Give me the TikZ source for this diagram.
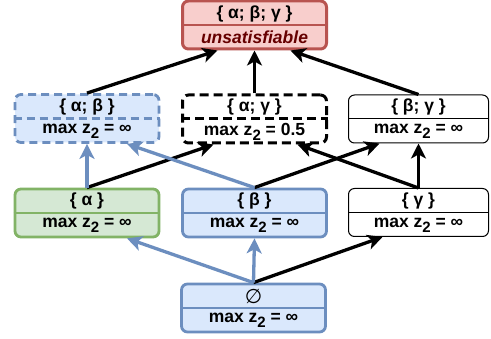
\documentclass[tikz,border=0pt]{standalone}
\usepackage{fontspec}
\setmainfont{Liberation Sans}
\newfontfamily\dejavufont{DejaVu Sans}
\usetikzlibrary{arrows.meta}
\definecolor{bluefill}{HTML}{DAE8FC}
\definecolor{bluedraw}{HTML}{6C8EBF}
\definecolor{greenfill}{HTML}{D5E8D4}
\definecolor{greendraw}{HTML}{82B366}
\definecolor{redfill}{HTML}{F8CECC}
\definecolor{reddraw}{HTML}{B85450}
\definecolor{darkredtext}{HTML}{660000}
\newcommand\zsub{z\raisebox{-0.28em}{\fontsize{15}{15}\selectfont 2}}
\begin{document}
\begin{tikzpicture}[x=1pt,y=-1pt,
  box/.style={rectangle, rounded corners=6pt, minimum width=144pt, minimum height=48pt, inner sep=0pt},
  bluebox/.style={box, fill=bluefill, draw=bluedraw, line width=2.8pt},
  blueboxd/.style={box, fill=bluefill, draw=bluedraw, line width=2.8pt, dash pattern=on 8pt off 5pt},
  greenbox/.style={box, fill=greenfill, draw=greendraw, line width=2.8pt},
  redbox/.style={box, fill=redfill, draw=reddraw, line width=3pt},
  blackboxd/.style={box, fill=white, draw=black, line width=3pt, dash pattern=on 9pt off 5pt},
  plainbox/.style={box, fill=white, draw=black, line width=1pt, minimum width=140pt},
  lbl/.style={font=\fontsize{17.5}{17.5}\selectfont\bfseries, inner sep=0pt},
  blk/.style={draw=black, line width=3.3pt, -{Stealth[length=15pt,width=15pt,inset=4pt]}},
  blu/.style={draw=bluedraw, line width=3.3pt, -{Stealth[length=15pt,width=15pt,inset=4pt]}},
]
\useasboundingbox[fill=white] (0,0) rectangle (491,339);

% nodes
\node[redbox] (top) at (254.5,25) {};
\draw[draw=reddraw, line width=2pt] (top.west) -- (top.east);
\node[lbl] (topa) at (254.5,13.5) {\{ α; β; γ \}};
\node[lbl, font=\fontsize{17.5}{17.5}\selectfont\bfseries\itshape, text=darkredtext] (topb) at (254.5,37) {unsatisfiable};

\node[blueboxd] (ab) at (87,118.5) {};
\draw[draw=bluedraw, line width=2.8pt, dash pattern=on 8pt off 5pt] (ab.west) -- (ab.east);
\node[lbl] (aba) at (87,106.5) {\{ α; β \}};
\node[lbl] (abb) at (87,131) {max \zsub{} = ∞};

\node[blackboxd] (ag) at (254.5,119) {};
\draw[draw=black, line width=3pt, dash pattern=on 9pt off 5pt] (ag.west) -- (ag.east);
\node[lbl] (aga) at (254.5,107) {\{ α; γ \}};
\node[lbl] (agb) at (254.5,131.5) {max \zsub{} = 0.5};

\node[plainbox] (bg) at (418.5,119) {};
\draw[draw=black, line width=1pt] (bg.west) -- (bg.east);
\node[lbl] (bga) at (418.5,107) {\{ β; γ \}};
\node[lbl] (bgb) at (418.5,131.5) {max \zsub{} = ∞};

\node[greenbox] (a) at (87,213) {};
\draw[draw=greendraw, line width=2.8pt] (a.west) -- (a.east);
\node[lbl] (aa) at (87,201) {\{ α \}};
\node[lbl] (ab2) at (87,225.5) {max \zsub{} = ∞};

\node[bluebox] (b) at (254.5,213) {};
\draw[draw=bluedraw, line width=2.8pt] (b.west) -- (b.east);
\node[lbl] (ba) at (254.5,201) {\{ β \}};
\node[lbl] (bb) at (254.5,225.5) {max \zsub{} = ∞};

\node[plainbox] (g) at (418.5,212.5) {};
\draw[draw=black, line width=1pt] (g.west) -- (g.east);
\node[lbl] (ga) at (418.5,200.5) {\{ γ \}};
\node[lbl] (gb) at (418.5,225) {max \zsub{} = ∞};

\node[bluebox] (e) at (253.5,308) {};
\draw[draw=bluedraw, line width=2.8pt] (e.west) -- (e.east);
\node[lbl, font=\fontsize{20}{20}\selectfont\dejavufont] (ea) at (253.5,296) {∅};
\node[lbl] (eb) at (253.5,320.5) {max \zsub{} = ∞};

% connectors
\draw[blk] (ab.north) -- ([xshift=-37pt]top.south);
\draw[blk] (ag.north) -- (top.south);
\draw[blk] (bg.north) -- ([xshift=36pt]top.south);

\draw[blk] (a.north) -- ([xshift=-41pt]ag.south);
\draw[blk] (b.north) -- ([xshift=-39pt]bg.south);
\draw[blk] (g.north) -- ([xshift=43pt]ag.south);
\draw[blk] (g.north) -- (bg.south);
\draw[blu] (a.north) -- (ab.south);
\draw[blu] (b.north) -- ([xshift=40pt]ab.south);

\draw[blk] (e.north) -- ([xshift=-36pt]g.south);
\draw[blu] (e.north) -- ([xshift=40pt]a.south);
\draw[blu] (e.north) -- (b.south);
\end{tikzpicture}
\end{document}
